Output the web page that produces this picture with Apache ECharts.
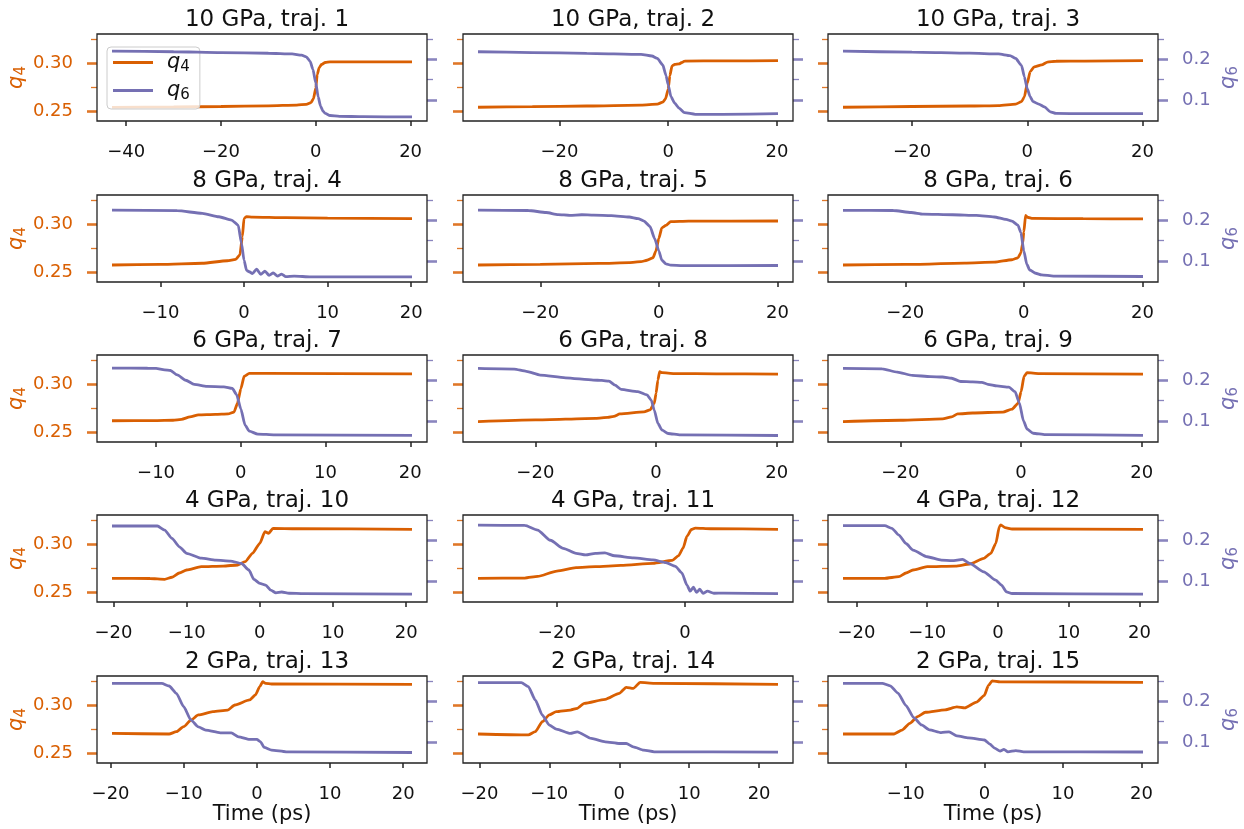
<!DOCTYPE html>
<html><head><meta charset="utf-8">
<script src="https://cdn.jsdelivr.net/npm/echarts@6/dist/echarts.min.js"></script>
<style>html,body{margin:0;padding:0;background:#fff}#c{width:1244px;height:829px}</style>
</head><body><div id="c"></div>
<script>
const titles = ['10 GPa, traj. 1','10 GPa, traj. 2','10 GPa, traj. 3','8 GPa, traj. 4','8 GPa, traj. 5','8 GPa, traj. 6','6 GPa, traj. 7','6 GPa, traj. 8','6 GPa, traj. 9','4 GPa, traj. 10','4 GPa, traj. 11','4 GPa, traj. 12','2 GPa, traj. 13','2 GPa, traj. 14','2 GPa, traj. 15'];

const p1_q4 = [[-43,0.2540],[-30,0.2545],[-20,0.2550],[-10,0.2557],[-4,0.2565],[-2,0.2572],[-1,0.2590],[-0.5,0.2630],[0,0.2740],[0.3,0.2880],[0.7,0.2950],[1.2,0.2985],[2,0.3005],[3,0.3012],[10,0.3012],[20.3,0.3012]];
const p1_q6 = [[-43,0.2202],[-30,0.2185],[-20,0.2165],[-10,0.2148],[-5,0.2130],[-3,0.2100],[-2,0.2060],[-1.2,0.1950],[-0.6,0.1750],[0,0.1420],[0.5,0.1080],[1,0.0850],[1.5,0.0730],[2,0.0670],[3,0.0620],[5,0.0600],[10,0.0590],[20.3,0.0585]];
const p2_q4 = [[-35,0.2542],[-25,0.2548],[-15,0.2555],[-5,0.2565],[-2,0.2575],[-1,0.2595],[-0.5,0.2628],[0,0.2730],[0.3,0.2868],[0.7,0.2970],[1.2,0.2985],[2,0.2990],[2.5,0.3005],[3,0.3020],[10,0.3022],[20.2,0.3024]];
const p2_q6 = [[-35,0.2185],[-25,0.2165],[-15,0.2146],[-5,0.2120],[-3,0.2080],[-2,0.2020],[-1,0.1860],[-0.4,0.1600],[0,0.1370],[0.5,0.1080],[1.2,0.0920],[2,0.0800],[3,0.0690],[5,0.0650],[10,0.0650],[20.2,0.0665]];
const p3_q4 = [[-32,0.2542],[-20,0.2550],[-10,0.2555],[-5,0.2560],[-2,0.2575],[-1,0.2600],[-0.5,0.2650],[0,0.2790],[0.5,0.2910],[1.2,0.2960],[2.5,0.2980],[3.5,0.3010],[5,0.3018],[10,0.3020],[20.1,0.3024]];
const p3_q6 = [[-32,0.2200],[-20,0.2175],[-10,0.2150],[-5,0.2130],[-3,0.2090],[-2,0.2020],[-1,0.1850],[-0.5,0.1570],[0,0.1280],[0.5,0.1080],[1,0.0960],[2,0.0900],[3,0.0832],[4,0.0710],[5,0.0670],[10,0.0665],[20.1,0.0665]];
const p4_q4 = [[-15.8,0.2576],[-10,0.2582],[-5,0.2594],[-2,0.2620],[-1,0.2635],[-0.5,0.2680],[-0.2,0.2869],[0,0.3059],[0.3,0.3076],[1,0.3072],[5,0.3065],[10,0.3060],[20.1,0.3055]];
const p4_q6 = [[-15.8,0.2250],[-8,0.2235],[-5,0.2170],[-3,0.2086],[-1.5,0.2005],[-0.7,0.1880],[-0.3,0.1430],[0,0.1020],[0.3,0.0770],[0.7,0.0730],[1,0.0690],[1.5,0.0800],[2,0.0670],[2.5,0.0750],[3,0.0650],[3.5,0.0710],[4,0.0630],[4.5,0.0680],[5,0.0615],[6,0.0630],[8,0.0610],[20.1,0.0610]];
const p5_q4 = [[-30.5,0.2576],[-20,0.2583],[-10,0.2592],[-5,0.2600],[-3,0.2610],[-2,0.2625],[-1,0.2650],[-0.5,0.2720],[0,0.2850],[0.5,0.2960],[1.2,0.2985],[2,0.3025],[5,0.3030],[20.1,0.3031]];
const p5_q6 = [[-30.5,0.2250],[-22,0.2240],[-19,0.2190],[-17,0.2140],[-15,0.2120],[-13,0.2135],[-11,0.2125],[-8,0.2115],[-5,0.2080],[-3.5,0.2040],[-2.5,0.1980],[-1.5,0.1850],[-0.7,0.1550],[0,0.1250],[0.5,0.1020],[1.2,0.0930],[2,0.0900],[4,0.0885],[20.1,0.0890]];
const p6_q4 = [[-30.5,0.2576],[-20,0.2582],[-10,0.2595],[-5,0.2605],[-2,0.2630],[-1,0.2650],[-0.5,0.2700],[-0.2,0.2800],[0,0.2920],[0.3,0.3090],[0.6,0.3070],[1.5,0.3058],[10,0.3055],[20.1,0.3052]];
const p6_q6 = [[-30.5,0.2245],[-22,0.2240],[-19,0.2190],[-17,0.2150],[-12,0.2135],[-8,0.2120],[-5,0.2080],[-3,0.2020],[-2,0.1980],[-1,0.1880],[-0.5,0.1700],[0,0.1250],[0.5,0.0920],[1,0.0780],[2,0.0700],[3,0.0660],[5,0.0630],[20.1,0.0620]];
const p7_q4 = [[-15.2,0.2620],[-10,0.2622],[-8,0.2625],[-7,0.2635],[-6,0.2660],[-5,0.2680],[-3,0.2685],[-1.5,0.2690],[-0.8,0.2710],[-0.4,0.2800],[0,0.2950],[0.4,0.3080],[1,0.3110],[3,0.3110],[20.2,0.3105]];
const p7_q6 = [[-15.2,0.2300],[-11,0.2295],[-10,0.2290],[-9,0.2255],[-8.3,0.2240],[-7.5,0.2130],[-6.5,0.2000],[-5.5,0.1900],[-4,0.1850],[-2,0.1840],[-1,0.1800],[-0.5,0.1650],[0,0.1300],[0.5,0.0900],[1,0.0750],[2,0.0680],[4,0.0660],[20.2,0.0650]];
const p8_q4 = [[-29.5,0.2610],[-20,0.2628],[-10,0.2645],[-8,0.2655],[-7,0.2665],[-6,0.2690],[-2,0.2712],[-1,0.2732],[-0.3,0.2800],[0,0.2903],[0.3,0.3041],[0.6,0.3128],[1,0.3117],[3,0.3108],[10,0.3105],[20.2,0.3103]];
const p8_q6 = [[-29.5,0.2290],[-23.5,0.2275],[-21.5,0.2220],[-19.2,0.2128],[-15,0.2060],[-10.4,0.2005],[-9,0.1995],[-7.8,0.1980],[-6.8,0.1880],[-5.8,0.1776],[-3,0.1720],[-1.5,0.1640],[-0.8,0.1513],[-0.3,0.1267],[0.3,0.0940],[1,0.0775],[2,0.0694],[4,0.0660],[20.2,0.0645]];
const p9_q4 = [[-29.5,0.2610],[-20,0.2625],[-13,0.2640],[-11.5,0.2660],[-10.5,0.2690],[-8,0.2700],[-3,0.2710],[-1.5,0.2740],[-0.5,0.2800],[0,0.2920],[0.5,0.3080],[1,0.3118],[3,0.3108],[20.2,0.3102]];
const p9_q6 = [[-29.5,0.2290],[-23,0.2280],[-20.5,0.2200],[-18,0.2120],[-15,0.2090],[-13,0.2080],[-11.5,0.2050],[-10,0.1970],[-8,0.1960],[-6.5,0.1950],[-5.5,0.1900],[-4,0.1860],[-2,0.1830],[-1,0.1720],[-0.3,0.1450],[0.4,0.1000],[1,0.0800],[2,0.0700],[4,0.0665],[20.2,0.0650]];
const p10_q4 = [[-20.2,0.2645],[-15,0.2643],[-13,0.2635],[-12,0.2656],[-11,0.2700],[-10,0.2731],[-8,0.2765],[-5,0.2772],[-3,0.2783],[-2,0.2817],[-1,0.2904],[0,0.3007],[0.7,0.3127],[1.2,0.3110],[1.8,0.3162],[5,0.3158],[20.8,0.3152]];
const p10_q6 = [[-20.2,0.2350],[-14,0.2350],[-13,0.2250],[-12,0.2047],[-11,0.1840],[-10,0.1680],[-8,0.1560],[-6,0.1513],[-4,0.1490],[-2.5,0.1430],[-1.5,0.1270],[-0.8,0.1040],[0,0.0940],[0.8,0.0900],[1.5,0.0775],[2.2,0.0709],[3,0.0730],[4,0.0700],[6,0.0690],[20.8,0.0677]];
const p11_q4 = [[-32.3,0.2645],[-25,0.2648],[-23,0.2665],[-20,0.2720],[-17,0.2755],[-14,0.2765],[-10,0.2778],[-5,0.2800],[-2,0.2830],[-1,0.2880],[-0.3,0.2960],[0.3,0.3080],[1,0.3150],[1.6,0.3165],[4,0.3158],[14.5,0.3152]];
const p11_q6 = [[-32.3,0.2370],[-25,0.2365],[-23,0.2250],[-21,0.2000],[-19,0.1800],[-17,0.1680],[-15.5,0.1640],[-14,0.1680],[-12.5,0.1690],[-11,0.1620],[-8,0.1570],[-5,0.1520],[-3,0.1450],[-1.5,0.1360],[-0.5,0.1200],[0.3,0.0900],[0.8,0.0750],[1.3,0.0850],[1.8,0.0720],[2.3,0.0800],[2.8,0.0700],[3.5,0.0750],[4.5,0.0700],[6,0.0705],[14.5,0.0690]];
const p12_q4 = [[-21.9,0.2645],[-16,0.2645],[-14,0.2662],[-13,0.2700],[-12,0.2731],[-10,0.2765],[-6,0.2772],[-4,0.2793],[-2,0.2852],[-1,0.2904],[-0.3,0.3007],[0.2,0.3179],[0.4,0.3197],[1,0.3170],[2,0.3155],[20.5,0.3152]];
const p12_q6 = [[-21.9,0.2357],[-16,0.2357],[-15,0.2292],[-14,0.2128],[-13,0.1920],[-12,0.1759],[-10,0.1595],[-8,0.1513],[-6.5,0.1500],[-5,0.1529],[-4,0.1431],[-2,0.1226],[-0.3,0.1021],[0.5,0.0898],[1.2,0.0734],[2,0.0693],[20.5,0.0677]];
const p13_q4 = [[-19.8,0.2707],[-12,0.2700],[-11,0.2724],[-10,0.2776],[-9,0.2845],[-8,0.2897],[-6,0.2931],[-4,0.2948],[-3,0.3000],[-1,0.3052],[-0.2,0.3104],[0.4,0.3190],[0.8,0.3241],[1.2,0.3224],[2,0.3217],[21.2,0.3214]];
const p13_q6 = [[-19.8,0.2440],[-13,0.2440],[-12,0.2374],[-11,0.2194],[-10,0.1865],[-9,0.1537],[-8,0.1373],[-7,0.1292],[-5,0.1226],[-3.5,0.1226],[-2.5,0.1128],[-1,0.1063],[0,0.1063],[0.5,0.1005],[1,0.0866],[2,0.0801],[4,0.0760],[21.2,0.0743]];
const p14_q4 = [[-20.2,0.2700],[-13,0.2690],[-12,0.2724],[-11,0.2828],[-10,0.2897],[-9,0.2931],[-7,0.2948],[-6,0.2966],[-5,0.3017],[-2,0.3059],[0,0.3121],[1,0.3183],[2,0.3172],[3,0.3234],[5,0.3224],[22.7,0.3214]];
const p14_q6 = [[-20.2,0.2456],[-14,0.2456],[-13,0.2358],[-12,0.2030],[-11,0.1660],[-10,0.1415],[-9,0.1317],[-7,0.1210],[-6,0.1250],[-4,0.1087],[-2,0.1005],[0,0.0964],[1,0.0964],[2,0.0882],[3.5,0.0801],[5,0.0760],[22.7,0.0751]];
const p15_q4 = [[-18,0.2700],[-11.5,0.2700],[-10.5,0.2740],[-9.5,0.2810],[-8.5,0.2880],[-7.5,0.2925],[-5,0.2950],[-3.5,0.2980],[-2.5,0.2970],[-1,0.3030],[0,0.3100],[0.5,0.3200],[1,0.3250],[2,0.3240],[20.2,0.3235]];
const p15_q6 = [[-18,0.2440],[-13,0.2440],[-12,0.2380],[-11,0.2200],[-10,0.1900],[-9,0.1600],[-8,0.1420],[-7,0.1300],[-5.5,0.1230],[-4.5,0.1250],[-3.5,0.1150],[-2,0.1100],[0,0.1050],[0.7,0.0950],[1.3,0.0850],[2,0.0780],[2.5,0.0820],[3,0.0760],[4,0.0790],[5,0.0760],[20.2,0.0755]];

const q4Data = [p1_q4,p2_q4,p3_q4,p4_q4,p5_q4,p6_q4,p7_q4,p8_q4,p9_q4,p10_q4,p11_q4,p12_q4,p13_q4,p14_q4,p15_q4];
const q6Data = [p1_q6,p2_q6,p3_q6,p4_q6,p5_q6,p6_q6,p7_q6,p8_q6,p9_q6,p10_q6,p11_q6,p12_q6,p13_q6,p14_q6,p15_q6];

const xTicks = [[-40,-20,0,20],[-20,0,20],[-20,0,20],[-10,0,10,20],[-20,0,20],[-20,0,20],[-10,0,10,20],[-20,0,20],[-20,0,20],[-20,-10,0,10,20],[-20,0],[-20,-10,0,10,20],[-20,-10,0,10,20],[-20,-10,0,10,20],[-10,0,10,20]];
const q4MajorTicks = [0.25, 0.30];
const q4MinorTicks = [0.275, 0.325];
const q6MajorTicks = [0.1, 0.2];
const q6MinorTicks = [0.15, 0.25];
const q4Range = [0.2400, 0.3300];
const q6Range = [0.0485, 0.2620];
const xLabel = 'Time (ps)';

const ORANGE = '#d95f02', PURPLE = '#7570b3', FONT = 'DejaVu Sans';
const colLeft = [97, 463, 828], rowTop = [34, 195, 355, 515, 676], W = 330, H = 87;
const fmtX = v => v < 0 ? '\u2212' + (-v) : String(v);
const richFor = (color, big, small) => ({
  q: {fontFamily: FONT, fontSize: big, fontStyle: 'italic', color: color, lineHeight: big + 4, verticalAlign: 'middle'},
  s: {fontFamily: FONT, fontSize: small, color: color, lineHeight: small, verticalAlign: 'bottom'}
});

const option = {
  animation: false, backgroundColor: '#ffffff',
  title: [], grid: [], xAxis: [], yAxis: [], series: [],
  legend: {
    data: [{name: 'q4', icon: 'rect'}, {name: 'q6', icon: 'rect'}],
    left: 107, top: 47, orient: 'vertical', itemWidth: 40, itemHeight: 3, itemGap: 5,
    padding: [5, 10, 6, 6], backgroundColor: 'rgba(255,255,255,0.8)', borderColor: '#cccccc',
    borderWidth: 1, borderRadius: 4, z: 4,
    formatter: n => n === 'q4' ? '{p|}{q|q}{s|4}' : '{p|}{q|q}{s|6}',
    textStyle: {color: '#111', rich: Object.assign({p: {width: 9}}, richFor('#111', 21, 15))}
  }
};

for (let i = 0; i < 15; i++) {
  const r = Math.floor(i / 3), c = i % 3;
  option.grid.push({left: colLeft[c], top: rowTop[r], width: W, height: H, show: true,
    borderColor: '#222', borderWidth: 1.3, backgroundColor: 'transparent', z: 3});
  option.title.push({text: titles[i], left: colLeft[c] + W / 2, top: rowTop[r] - 30, textAlign: 'center',
    textStyle: {fontFamily: FONT, fontSize: 23, fontWeight: 'normal', color: '#111'}});
  const xs = q4Data[i].map(p => p[0]).concat(q6Data[i].map(p => p[0]));
  const xmin = Math.min(...xs), xmax = Math.max(...xs), pad = 0.05 * (xmax - xmin);
  option.xAxis.push({type: 'value', gridIndex: i, min: xmin - pad, max: xmax + pad,
    axisLine: {show: false, onZero: false}, splitLine: {show: false},
    axisTick: {customValues: xTicks[i], length: 5, lineStyle: {color: '#222', width: 1.5}},
    axisLabel: {customValues: xTicks[i], margin: 22, fontFamily: FONT, fontSize: 18, color: '#111', formatter: fmtX},
    name: r === 4 ? xLabel : '', nameLocation: 'middle', nameGap: 41,
    nameTextStyle: {fontFamily: FONT, fontSize: 21, color: '#111'}});
  const base = (range, pos) => ({type: 'value', gridIndex: i, position: pos, min: range[0], max: range[1],
    splitLine: {show: false}, axisLine: {show: false, onZero: false}});
  option.yAxis.push(Object.assign(base(q4Range, 'left'), {
    axisTick: {customValues: q4MajorTicks, length: 10, lineStyle: {color: ORANGE, width: 2.6, opacity: 0.85}},
    axisLabel: {show: c === 0, customValues: q4MajorTicks, margin: 24, fontFamily: FONT, fontSize: 18, color: ORANGE, formatter: v => v.toFixed(2)},
    name: c === 0 ? '{q|q}{s|4}' : '', nameLocation: 'middle', nameRotate: 90, nameGap: 66,
    nameTextStyle: {color: ORANGE, rich: richFor(ORANGE, 21, 15)}}));
  option.yAxis.push(Object.assign(base(q4Range, 'left'), {
    axisTick: {customValues: q4MinorTicks, length: 6, lineStyle: {color: ORANGE, width: 1.3, opacity: 0.85}},
    axisLabel: {show: false}}));
  option.yAxis.push(Object.assign(base(q6Range, 'right'), {
    axisTick: {customValues: q6MajorTicks, length: 10, lineStyle: {color: PURPLE, width: 2.6, opacity: 0.85}},
    axisLabel: {show: c === 2, customValues: q6MajorTicks, margin: 24, fontFamily: FONT, fontSize: 18, color: PURPLE, formatter: v => v.toFixed(1)},
    name: c === 2 ? '{q|q}{s|6}' : '', nameLocation: 'middle', nameRotate: 90, nameGap: 58,
    nameTextStyle: {color: PURPLE, rich: richFor(PURPLE, 21, 15)}}));
  option.yAxis.push(Object.assign(base(q6Range, 'right'), {
    axisTick: {customValues: q6MinorTicks, length: 6, lineStyle: {color: PURPLE, width: 1.3, opacity: 0.85}},
    axisLabel: {show: false}}));
  option.series.push({type: 'line', name: 'q4', xAxisIndex: i, yAxisIndex: 4 * i, data: q4Data[i],
    symbol: 'none', showSymbol: false, smooth: 0.2, smoothMonotone: 'x', silent: true,
    lineStyle: {color: ORANGE, width: 2.8}, itemStyle: {color: ORANGE}, z: 2});
  option.series.push({type: 'line', name: 'q6', xAxisIndex: i, yAxisIndex: 4 * i + 2, data: q6Data[i],
    symbol: 'none', showSymbol: false, smooth: 0.2, smoothMonotone: 'x', silent: true,
    lineStyle: {color: PURPLE, width: 2.8}, itemStyle: {color: PURPLE}, z: 5});
}

const chart = echarts.init(document.getElementById('c'), null, {renderer: 'canvas'});
chart.setOption(option);
</script></body></html>
